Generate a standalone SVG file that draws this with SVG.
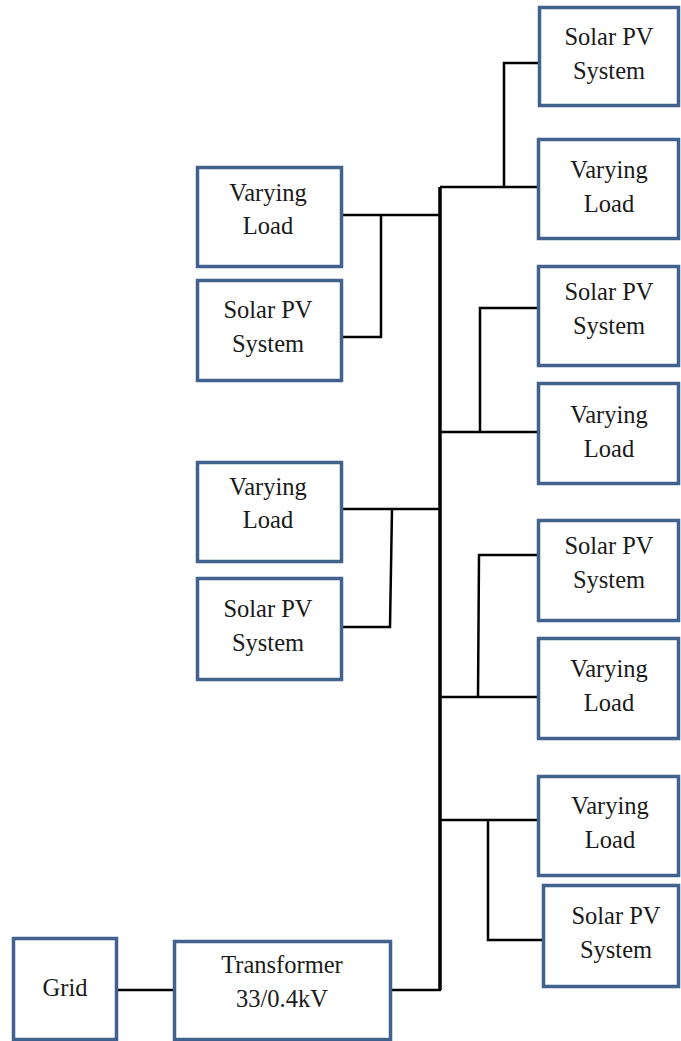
<svg xmlns="http://www.w3.org/2000/svg" width="681" height="1041" viewBox="0 0 681 1041">
<style>
.box{fill:#fff;stroke:#41618f;stroke-width:3.5}
.t{font-family:"Liberation Serif","Times New Roman",serif;font-size:24.5px;fill:#1a1a1a;text-anchor:middle}
.w{fill:none;stroke:#000;stroke-width:2.5}
.bus{fill:none;stroke:#000;stroke-width:3.5}
</style>
<rect width="681" height="1041" fill="#fff"/>
<g id="connectors">
<path class="bus" d="M440,187 V990"/>
<path class="w" d="M440,187 H537 M504,187 V63 H538"/>
<path class="w" d="M343,215 H440 M381,215 V337 H343"/>
<path class="w" d="M440,432 H537 M480,432 V308 H537"/>
<path class="w" d="M343,509 H440 M392,509 L390,627 H343"/>
<path class="w" d="M440,697 H537 M478,697 L479,555 H537"/>
<path class="w" d="M440,820 H537 M488,820 V940 H542"/>
<path class="w" d="M118,990 H173 M392,990 H441"/>
</g>
<g id="n_r1"><rect class="box" x="539.5" y="7.5" width="139" height="98"/><text class="t" x="609" y="45">Solar PV</text><text class="t" x="609" y="79">System</text></g>
<g id="n_r2"><rect class="box" x="538.5" y="139.5" width="140" height="99"/><text class="t" x="609" y="178">Varying</text><text class="t" x="609" y="212">Load</text></g>
<g id="n_r3"><rect class="box" x="538.5" y="266.5" width="140" height="99"/><text class="t" x="609" y="300">Solar PV</text><text class="t" x="609" y="334">System</text></g>
<g id="n_r4"><rect class="box" x="538.5" y="383.5" width="140" height="100"/><text class="t" x="609" y="423">Varying</text><text class="t" x="609" y="457">Load</text></g>
<g id="n_r5"><rect class="box" x="538.5" y="520.5" width="140" height="100"/><text class="t" x="609" y="554">Solar PV</text><text class="t" x="609" y="588">System</text></g>
<g id="n_r6"><rect class="box" x="538.5" y="638.5" width="140" height="100"/><text class="t" x="609" y="677">Varying</text><text class="t" x="609" y="711">Load</text></g>
<g id="n_r7"><rect class="box" x="538.5" y="776.5" width="140" height="99"/><text class="t" x="610" y="814">Varying</text><text class="t" x="610" y="848">Load</text></g>
<g id="n_r8"><rect class="box" x="543.5" y="885.5" width="135" height="101"/><text class="t" x="616" y="924">Solar PV</text><text class="t" x="616" y="958">System</text></g>
<g id="n_l1"><rect class="box" x="197.5" y="167.5" width="144" height="99"/><text class="t" x="268" y="201">Varying</text><text class="t" x="268" y="234">Load</text></g>
<g id="n_l2"><rect class="box" x="197.5" y="280.5" width="144" height="100"/><text class="t" x="268" y="318">Solar PV</text><text class="t" x="268" y="352">System</text></g>
<g id="n_l3"><rect class="box" x="197.5" y="462.5" width="144" height="99"/><text class="t" x="268" y="495">Varying</text><text class="t" x="268" y="528">Load</text></g>
<g id="n_l4"><rect class="box" x="197.5" y="578.5" width="144" height="101"/><text class="t" x="268" y="617">Solar PV</text><text class="t" x="268" y="651">System</text></g>
<g id="n_grid"><rect class="box" x="13.5" y="938.5" width="103" height="101"/><text class="t" x="65" y="996">Grid</text></g>
<g id="n_tr"><rect class="box" x="174.5" y="941.5" width="216" height="98"/><text class="t" x="282" y="973">Transformer</text><text class="t" x="282" y="1007">33/0.4kV</text></g>
</svg>
